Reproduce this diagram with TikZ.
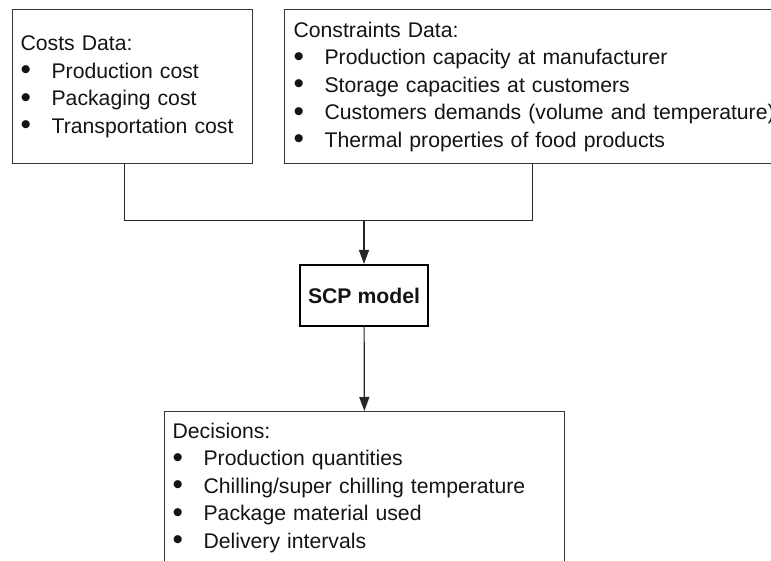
\documentclass[tikz,border=0pt]{standalone}
\usepackage{fontspec}
\setmainfont{Liberation Sans}
\usetikzlibrary{arrows.meta}
% enlarged bullet followed by a fixed indent
\newcommand\bul{\makebox[31pt][l]{\smash{\raisebox{-0.08em}{\scalebox{1.4}{\textbullet}}}}}
\begin{document}
\begin{tikzpicture}[x=1pt,y=-1pt,
  databox/.style={draw=black!78, line width=1.2pt, rectangle, align=left,
    anchor=north west, inner ysep=0pt,
    font=\fontsize{21.2}{27.5}\selectfont, text=black!92},
  modelbox/.style={draw=black, line width=2.2pt, rectangle,
    minimum width=128pt, minimum height=61pt, inner sep=0pt,
    font=\bfseries\fontsize{21.2}{25}\selectfont, text=black!92},
  link/.style={line width=1.2pt, draw=black!85},
  flow/.style={link, -{Triangle[length=14pt,width=10pt]}}]
\clip (0,0) rectangle (771,561);
\fill[white] (0,0) rectangle (771,561);

\node[databox, inner xsep=8pt, text width=224pt, minimum height=154pt]
  (costs) at (12,9)
  {Costs Data:\\
   \bul Production cost\\
   \bul Packaging cost\\
   \bul Transportation cost};

\node[databox, inner xsep=9pt, text width=490pt, minimum height=154pt]
  (cons) at (284,9)
  {Constraints Data:\\
   \bul Production capacity at manufacturer\\
   \bul Storage capacities at customers\\
   \bul Customers demands (volume and temperature)\\
   \bul Thermal properties of food products};

\node[modelbox] (scp) at (364,295.5) {SCP model};

\node[databox, inner xsep=8pt, text width=384pt, minimum height=152pt]
  (dec) at (164,411)
  {Decisions:\\
   \bul Production quantities\\
   \bul Chilling/super chilling temperature\\
   \bul Package material used\\
   \bul Delivery intervals};

% joining lines from the two data boxes
\coordinate (cl) at ([xshift=-8pt]costs.south);
\coordinate (cr) at ([xshift=-6pt]cons.south);
\path (scp.north) ++(0,-43) coordinate (jm);
\draw[link] (cl) |- (jm) -| (cr);

\draw[flow] (jm) -- (scp);
\draw[flow] (scp) -- (dec);
\end{tikzpicture}
\end{document}
